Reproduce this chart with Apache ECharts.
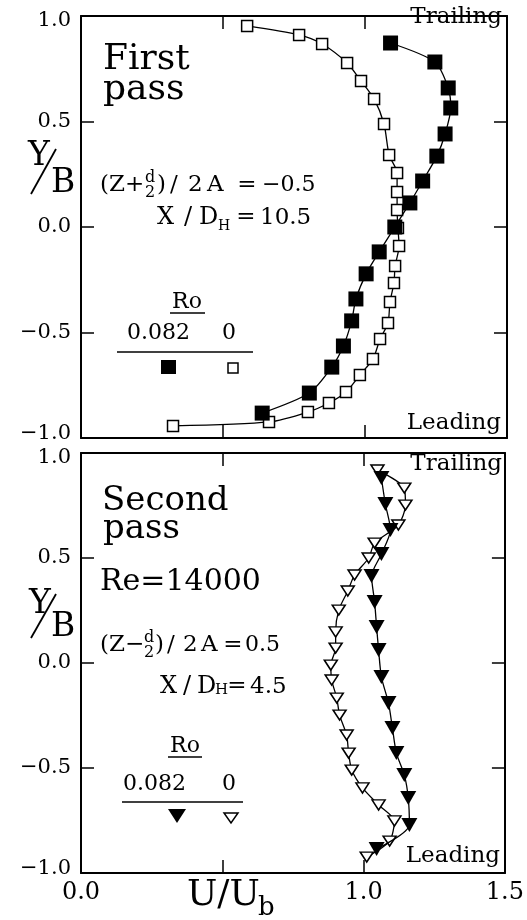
<!DOCTYPE html>
<html>
<head>
<meta charset="utf-8">
<script src="https://cdn.jsdelivr.net/npm/echarts@6/dist/echarts.min.js"></script>
<style>html,body{margin:0;padding:0;background:#fff;}#c{width:527px;height:920px;}</style>
</head>
<body>
<div id="c"></div>
<script>
// ---- data ----
const pass1_ro0_u = [0.585,0.768,0.849,0.937,0.986,1.032,1.067,1.085,1.113,1.113,1.113,1.116,1.120,1.106,1.102,1.088,1.081,1.053,1.028,0.982,0.933,0.873,0.799,0.662,0.324];
const pass1_ro0_y = [0.953,0.910,0.867,0.777,0.692,0.607,0.488,0.341,0.256,0.166,0.081,-0.005,-0.090,-0.185,-0.265,-0.355,-0.455,-0.531,-0.626,-0.701,-0.782,-0.834,-0.877,-0.924,-0.943];
const pass1_ro082_u = [1.090,1.246,1.293,1.302,1.282,1.253,1.203,1.158,1.105,1.050,1.004,0.968,0.953,0.924,0.883,0.804,0.638];
const pass1_ro082_y = [0.872,0.782,0.659,0.564,0.441,0.336,0.218,0.114,0.000,-0.118,-0.222,-0.341,-0.445,-0.564,-0.664,-0.787,-0.882];
const pass2_ro0_u = [1.049,1.144,1.148,1.123,1.039,1.018,0.968,0.944,0.912,0.901,0.901,0.884,0.887,0.905,0.915,0.940,0.947,0.958,0.996,1.053,1.109,1.092,1.011];
const pass2_ro0_y = [0.919,0.833,0.752,0.657,0.571,0.500,0.419,0.343,0.252,0.148,0.071,-0.010,-0.081,-0.167,-0.248,-0.343,-0.429,-0.510,-0.595,-0.676,-0.752,-0.848,-0.924];
const pass2_ro082_u = [1.063,1.077,1.095,1.063,1.028,1.039,1.046,1.053,1.063,1.088,1.102,1.116,1.144,1.158,1.162,1.046];
const pass2_ro082_y = [0.881,0.757,0.633,0.519,0.414,0.290,0.171,0.062,-0.067,-0.190,-0.310,-0.429,-0.533,-0.643,-0.771,-0.886];
const xRange = [0, 1.5], yRange = [-1, 1], tickStep = 0.5;
const xTickLabels = ['0.0', '', '1.0', '1.5'];   // 0.5 is left unlabeled in the original
const yTickLabels = ['\u22121.0', '\u22120.5', '0.0', '0.5', '1.0'];

const zip = (a, b) => a.map((v, i) => [v, b[i]]);
const FONT = '"DejaVu Serif", serif';

function xAx(grid, pos, labels) {
  return {
    type: 'value', gridIndex: grid, position: pos, min: xRange[0], max: xRange[1], interval: tickStep,
    axisLine: { show: true, onZero: false, lineStyle: { color: '#000', width: 2 } },
    axisTick: { show: true, inside: true, length: 13, lineStyle: { color: '#000', width: 1.5 } },
    axisLabel: { show: labels, formatter: (v) => xTickLabels[Math.round((v - xRange[0]) / tickStep)] || '',
      color: '#000', fontFamily: FONT, fontSize: 24, margin: 8 },
    splitLine: { show: false }
  };
}
function yAx(grid, pos, labels) {
  return {
    type: 'value', gridIndex: grid, position: pos, min: yRange[0], max: yRange[1], interval: tickStep,
    axisLine: { show: true, onZero: false, lineStyle: { color: '#000', width: 2 } },
    axisTick: { show: true, inside: true, length: 13, lineStyle: { color: '#000', width: 1.5 } },
    axisLabel: { show: labels,
      formatter: (v) => {
        const i = Math.round((v - yRange[0]) / tickStep);
        const s = yTickLabels[i];
        if (i === 0) return '{lo|' + s + '}';
        if (i === yTickLabels.length - 1) return '{hi|' + s + '}';
        return '{n|' + s + '}';
      },
      rich: {
        n: { fontFamily: FONT, fontSize: 21, color: '#000' },
        lo: { fontFamily: FONT, fontSize: 21, color: '#000', padding: [0, 0, 9, 0] },
        hi: { fontFamily: FONT, fontSize: 21, color: '#000', padding: [9, 0, 0, 0] }
      },
      color: '#000', fontFamily: FONT, fontSize: 21, margin: 10 },
    splitLine: { show: false }
  };
}
function ser(grid, data, symbol, size, filled, rotate) {
  return {
    type: 'line', xAxisIndex: grid * 2, yAxisIndex: grid * 2, data: data, smooth: 0.25,
    symbol: symbol, symbolSize: size, symbolRotate: rotate || 0, showAllSymbol: true,
    lineStyle: { color: '#000', width: 1.3 },
    itemStyle: filled ? { color: '#000', borderColor: '#000', borderWidth: 0 } : { color: '#fff', borderColor: '#000', borderWidth: 1.5 },
    z: filled ? 3 : 2, animation: false
  };
}
// text helper: baseline-based placement
function t(x, base, s, size, align) {
  return { type: 'text', z: 10, style: { x: x, y: base - 0.33 * size, text: s, fill: '#000', font: size + 'px ' + FONT, textAlign: align || 'left', textVerticalAlign: 'middle' } };
}
function ln(x1, y1, x2, y2, w) {
  return { type: 'line', z: 10, shape: { x1, y1, x2, y2 }, style: { stroke: '#000', lineWidth: w || 1.5 } };
}

const graphics = [
  // ---- top panel ----
  t(103, 72, 'First', 36), t(103, 102, 'pass', 36),
  t(502, 25, 'Trailing', 23, 'right'), t(501, 431, 'Leading', 23, 'right'),
  t(100, 193, '(Z+', 23), t(150, 183, 'd', 16, 'center'), t(150, 198, '2', 16, 'center'),
  t(157, 193, ')', 23), t(170, 193, '/', 23), t(188, 193, '2', 23), t(207, 193, 'A', 23), t(247, 193, '=', 23, 'center'), t(262, 193, '\u22120.5', 22),
  t(157, 226, 'X', 24), t(184, 226, '/', 24), t(199, 226, 'D', 24), t(218, 231, 'H', 14), t(246, 225, '=', 23, 'center'), t(260, 226, '10.5', 23),
  t(187, 310, 'Ro', 22, 'center'), ln(170, 313, 205, 313, 1.5),
  t(127, 341, '0.082', 22), t(222, 341, '0', 22),
  ln(117, 352, 253, 352, 1.5),
  { type: 'rect', z: 10, shape: { x: 161, y: 360, width: 15, height: 14 }, style: { fill: '#000' } },
  { type: 'rect', z: 10, shape: { x: 228, y: 363, width: 10, height: 10 }, style: { fill: '#fff', stroke: '#000', lineWidth: 1.5 } },
  t(28, 167, 'Y', 33), t(51, 194, 'B', 33), ln(31, 194, 56, 149, 1.8),
  // ---- bottom panel ----
  t(102, 512, 'Second', 34), t(103, 540, 'pass', 34),
  t(100, 592, 'Re=14000', 30),
  t(502, 472, 'Trailing', 23, 'right'), t(500, 864, 'Leading', 23, 'right'),
  t(100, 653, '(Z\u2212', 23), t(149, 643, 'd', 16, 'center'), t(149, 658, '2', 16, 'center'),
  t(155, 653, ')', 23), t(167, 653, '/', 23), t(183, 653, '2', 23), t(201, 653, 'A', 23), t(233, 653, '=', 23, 'center'), t(245, 653, '0.5', 22),
  t(160, 695, 'X', 24), t(183, 695, '/', 24), t(197, 695, 'D', 24), t(215, 695, 'H', 15), t(237, 694, '=', 23, 'center'), t(250, 695, '4.5', 23),
  t(185, 754, 'Ro', 22, 'center'), ln(168, 757, 202, 757, 1.5),
  t(123, 792, '0.082', 22), t(222, 792, '0', 22),
  ln(122, 802, 243, 802, 1.5),
  { type: 'polygon', z: 10, shape: { points: [[168, 809], [186, 809], [177, 823]] }, style: { fill: '#000' } },
  { type: 'polygon', z: 10, shape: { points: [[224, 813], [238, 813], [231, 823]] }, style: { fill: '#fff', stroke: '#000', lineWidth: 1.5 } },
  t(29, 615, 'Y', 33), t(51, 638, 'B', 33), ln(31, 638, 56, 594, 1.8),
  // x axis name
  t(187, 908, 'U/U', 36), t(258, 917, 'b', 26)
];

const chart = echarts.init(document.getElementById('c'), null, { renderer: 'canvas' });
chart.setOption({
  animation: false,
  backgroundColor: '#fff',
  grid: [
    { left: 81, right: 20, top: 16, height: 422 },
    { left: 81, right: 20, top: 453, height: 420 }
  ],
  xAxis: [xAx(0, 'bottom', false), xAx(0, 'top', false), xAx(1, 'bottom', true), xAx(1, 'top', false)],
  yAxis: [yAx(0, 'left', true), yAx(0, 'right', false), yAx(1, 'left', true), yAx(1, 'right', false)],
  series: [
    ser(0, zip(pass1_ro0_u, pass1_ro0_y), 'rect', 11, false),
    ser(0, zip(pass1_ro082_u, pass1_ro082_y), 'rect', 15, true),
    ser(1, zip(pass2_ro0_u, pass2_ro0_y), 'triangle', [13, 10], false, 180),
    ser(1, zip(pass2_ro082_u, pass2_ro082_y), 'triangle', [16, 14], true, 180)
  ],
  graphic: graphics
});
</script>
</body>
</html>
